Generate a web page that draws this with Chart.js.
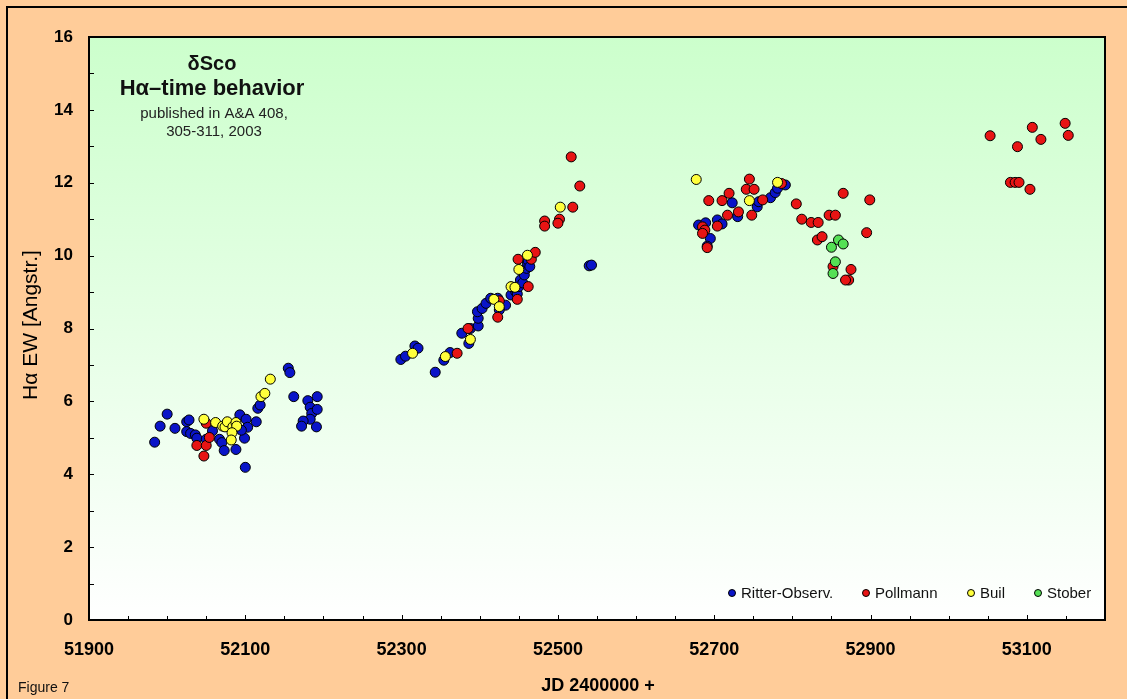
<!DOCTYPE html>
<html>
<head>
<meta charset="utf-8">
<script src="https://cdn.jsdelivr.net/npm/chart.js@4.4.1/dist/chart.umd.min.js"></script>
<style>
html,body{margin:0;padding:0;background:#FFCC99;}
canvas{display:block;}
</style>
</head>
<body>
<canvas id="c" width="1127" height="699" style="width:1127px;height:699px"></canvas>
<script>
// ---- data: [JD - 2400000, Halpha EW in Angstrom] ----
const ritter = [
 [51984,4.88],[51991,5.32],[52000,5.65],[52010,5.26],[52025,5.44],[52028,5.49],[52025,5.17],[52030,5.12],
 [52036,5.08],[52038,4.99],[52050,4.96],[52058,5.19],[52067,4.96],[52070,4.87],[52073,4.65],[52088,4.68],
 [52093,5.63],[52101,5.51],[52103,5.29],[52099,4.99],[52095,5.21],[52100,4.19],[52114,5.44],[52116,5.81],
 [52119,5.90],[52155,6.91],[52157,6.79],[52162,6.13],[52192,6.13],[52180,6.02],[52183,5.84],[52185,5.67],
 [52192,5.78],[52183,5.51],[52174,5.46],[52172,5.32],[52191,5.30],
 [52299,7.15],[52305,7.24],[52317,7.52],[52321,7.46],[52343,6.80],[52354,7.13],[52362,7.34],[52377,7.87],
 [52386,7.59],[52388,8.00],[52398,8.07],[52398,8.28],[52397,8.46],[52403,8.55],[52408,8.69],[52414,8.83],
 [52423,8.83],[52433,8.64],[52425,8.51],[52440,8.92],[52446,9.01],[52448,8.95],[52450,9.15],[52452,9.33],
 [52455,9.25],[52457,9.47],[52460,9.65],[52461,9.79],[52462,9.86],[52464,9.70],[52540,9.72],[52543,9.74],
 [52680,10.84],[52689,10.90],[52704,10.98],[52710,10.87],[52695,10.47],[52691,10.26],[52723,11.45],[52730,11.07],
 [52755,11.34],[52757,11.48],[52772,11.59],[52778,11.73],[52781,11.85],[52791,11.94]
];
const pollmann = [
 [52038,4.79],[52050,4.79],[52047,4.50],[52054,5.01],[52050,5.40],
 [52371,7.32],[52385,8.00],[52423,8.31],[52425,8.76],[52448,8.80],[52462,9.15],[52449,9.90],[52466,9.90],
 [52471,10.09],[52483,10.95],[52483,10.81],[52502,11.00],[52500,10.89],[52519,11.33],[52517,12.71],[52528,11.91],
 [52693,11.51],[52710,11.51],[52719,11.71],[52741,11.82],[52751,11.82],[52745,12.10],[52762,11.53],[52731,11.20],
 [52717,11.11],[52748,11.11],[52704,10.81],[52685,10.79],[52688,10.70],[52685,10.61],[52691,10.22],[52786,11.98],
 [52805,11.42],[52865,11.71],[52899,11.53],[52812,11.00],[52824,10.91],[52833,10.91],[52847,11.11],[52855,11.11],
 [52832,10.43],[52838,10.52],[52895,10.63],[52875,9.62],[52872,9.33],[52868,9.33],[52852,9.70],
 [53053,13.29],[53107,13.52],[53149,13.63],[53153,13.30],[53118,13.19],[53088,12.99],[53079,12.01],[53085,12.01],
 [53090,12.01],[53104,11.82]
];
const buil = [
 [52047,5.51],[52062,5.42],[52071,5.32],[52074,5.30],[52077,5.44],[52084,5.30],[52088,5.42],[52089,5.32],
 [52083,5.14],[52082,4.94],[52120,6.13],[52125,6.22],[52132,6.61],
 [52314,7.32],[52356,7.23],[52388,7.70],[52418,8.80],[52425,8.60],[52440,9.15],[52445,9.13],[52450,9.62],
 [52461,10.01],[52503,11.33],
 [52677,12.09],[52745,11.51],[52781,12.01]
];
const stober = [
 [52859,10.43],[52865,10.32],[52850,10.23],[52855,9.83],[52852,9.51]
];
const seriesNames = ['Ritter-Observ.','Pollmann','Buil','Stober'];
const seriesColors = ['#0A14C8','#E81414','#FFFF3C','#55E055'];
const titleLines = ['\u03B4Sco','H\u03B1\u2013time behavior','published in A&A 408,','305-311, 2003'];
const xTitle = 'JD 2400000 +';
const yTitle = 'H\u03B1 EW [Angstr.]';
const figureLabel = 'Figure 7';

const toPts = arr => arr.map(p => ({x:p[0], y:p[1]}));
const seriesData = [ritter, pollmann, buil, stober];
const orders = [3,2,1,0];

const FONT = '"Liberation Sans", Arial, sans-serif';

const decor = {
  id:'decor',
  beforeDraw(chart){
    const ctx = chart.ctx, a = chart.chartArea;
    ctx.save();
    ctx.fillStyle = '#FFCC99';
    ctx.fillRect(0,0,chart.width,chart.height);
    const g = ctx.createLinearGradient(0,a.top,0,a.bottom);
    g.addColorStop(0,'#CCFFCC');
    g.addColorStop(1,'#FFFFFF');
    ctx.fillStyle = g;
    ctx.fillRect(a.left,a.top,a.right-a.left,a.bottom-a.top);
    // outer frame (left & top)
    ctx.strokeStyle = '#000';
    ctx.lineWidth = 2;
    ctx.beginPath();
    ctx.moveTo(7,chart.height+2); ctx.lineTo(7,7); ctx.lineTo(chart.width+2,7);
    ctx.stroke();
    ctx.restore();
  },
  afterDraw(chart){
    const ctx = chart.ctx, a = chart.chartArea;
    const xs = chart.scales.x, ys = chart.scales.y;
    ctx.save();
    // plot border
    ctx.strokeStyle = '#000';
    ctx.lineWidth = 2;
    ctx.strokeRect(a.left,a.top,a.right-a.left,a.bottom-a.top);
    // inward ticks
    ctx.lineWidth = 1;
    ctx.beginPath();
    xs.ticks.forEach(t => {
      const px = Math.round(xs.getPixelForValue(t.value))+0.5;
      const len = (t.value % 200 === 100) ? 5 : 4;
      ctx.moveTo(px,a.bottom); ctx.lineTo(px,a.bottom-len);
    });
    ys.ticks.forEach(t => {
      const py = Math.round(ys.getPixelForValue(t.value))+0.5;
      ctx.moveTo(a.left,py); ctx.lineTo(a.left+5,py);
    });
    ctx.stroke();
    // title block
    ctx.fillStyle = '#111';
    ctx.textAlign = 'center';
    ctx.textBaseline = 'middle';
    ctx.font = 'bold 20px ' + FONT;
    ctx.fillText(titleLines[0], 212, 64);
    ctx.font = 'bold 22px ' + FONT;
    ctx.fillText(titleLines[1], 212, 89);
    ctx.font = '15px ' + FONT;
    ctx.fillStyle = '#222';
    ctx.fillText(titleLines[2], 214, 114);
    ctx.fillText(titleLines[3], 214, 132);
    // axis titles
    ctx.fillStyle = '#000';
    ctx.font = 'bold 18px ' + FONT;
    ctx.fillText(xTitle, 598, 686);
    ctx.save();
    ctx.translate(31, 325);
    ctx.rotate(-Math.PI/2);
    ctx.font = '21px ' + FONT;
    ctx.fillText(yTitle, 0, 0);
    ctx.restore();
    ctx.textAlign = 'left';
    ctx.font = '14px ' + FONT;
    ctx.fillStyle = '#111';
    ctx.fillText(figureLabel, 18, 688);
    // legend
    const lx = [732, 866, 971, 1038];
    ctx.font = '15px ' + FONT;
    chart.data.datasets.forEach((ds, i) => {
      ctx.beginPath();
      ctx.arc(lx[i], 593, 3.5, 0, Math.PI*2);
      ctx.fillStyle = ds.backgroundColor;
      ctx.fill();
      ctx.strokeStyle = '#000';
      ctx.lineWidth = 1;
      ctx.stroke();
      ctx.fillStyle = '#111';
      ctx.fillText(ds.label, lx[i]+9, 594);
    });
    ctx.restore();
  }
};

new Chart(document.getElementById('c'), {
  type:'scatter',
  data:{
    datasets: seriesData.map((d,i) => ({
      label: seriesNames[i],
      data: toPts(d),
      backgroundColor: seriesColors[i],
      borderColor:'#000',
      borderWidth:1,
      pointRadius:5,
      pointHoverRadius:5,
      order: orders[i]
    }))
  },
  options:{
    responsive:false,
    devicePixelRatio:1,
    animation:false,
    events:[],
    layout:{padding:{left:0,top:37,right:22,bottom:0}},
    plugins:{legend:{display:false},tooltip:{enabled:false}},
    scales:{
      x:{
        type:'linear', min:51900, max:53200,
        afterFit: s => { s.height = 79; },
        grid:{display:false, drawTicks:false},
        border:{display:false},
        ticks:{
          stepSize:50, autoSkip:false, maxRotation:0, padding:19,
          color:'#000', font:{family:FONT, size:18, weight:'bold'},
          callback: v => (v % 200 === 100 ? String(v) : '')
        }
      },
      y:{
        type:'linear', min:0, max:16,
        afterFit: s => { s.width = 89; },
        grid:{display:false, drawTicks:false},
        border:{display:false},
        ticks:{
          stepSize:1, autoSkip:false, padding:16,
          color:'#000', font:{family:FONT, size:17, weight:'bold'},
          callback: v => (v % 2 === 0 ? String(v) : '')
        }
      }
    }
  },
  plugins:[decor]
});
</script>
</body>
</html>
